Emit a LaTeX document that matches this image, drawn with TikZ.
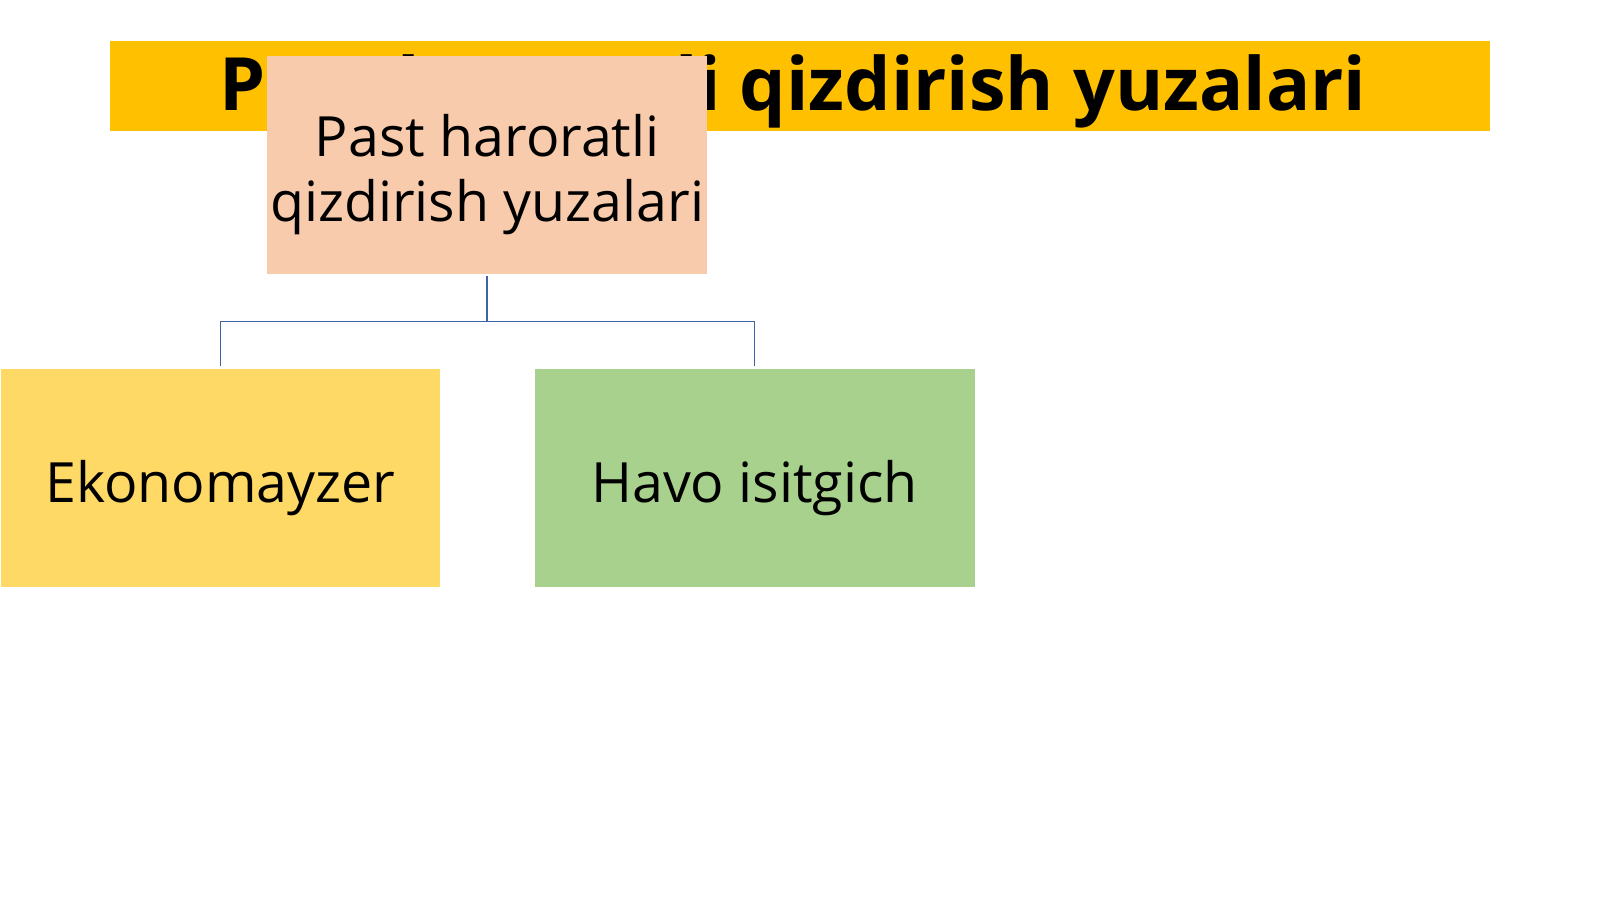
\documentclass[tikz,border=0pt]{standalone}
\usepackage{fontspec}
\setmainfont{Open Sans}
\definecolor{titlebar}{HTML}{FFC000}
\definecolor{topbox}{HTML}{F8CBAD}
\definecolor{ybox}{HTML}{FFD966}
\definecolor{gbox}{HTML}{A9D18E}
\definecolor{conn}{HTML}{3E64A8}
\tikzset{
  box/.style={draw=none, minimum width=439.8pt, minimum height=218.4pt, inner sep=0pt},
  boxtext/.style={inner sep=0pt, align=center, font=\fontsize{55.5}{65.3}\selectfont},
  link/.style={draw=conn, line width=1.6pt}
}
\begin{document}
\begin{tikzpicture}[x=1.0204pt,y=-1.0204pt]
\useasboundingbox (0,0) rectangle (1568,881);
\fill[white] (0,0) rectangle (1568,881);
\fill[titlebar] (108,40) rectangle (1460,128);
\node[anchor=base west, inner sep=0pt, font=\fontsize{73.5}{80}\selectfont\bfseries] (title) at (215,108) {Past haroratli qizdirish yuzalari};
\node[box, fill=topbox] (top) at (477.5,161.5) {};
\node[box, fill=ybox] (eko) at (216,468.5) {};
\node[box, fill=gbox] (havo) at (739.5,468.5) {};
\node[boxtext] (toptext) at (477.5,171) {Past haroratli\\qizdirish yuzalari};
\node[boxtext] (ekotext) at (216,478) {Ekonomayzer};
\node[boxtext] (havotext) at (739.5,478) {Havo isitgich};
\coordinate (mid) at (477.5,315);
\draw[link] ([yshift=-2pt]top.south) -- (mid);
\draw[link] (mid) -| ([yshift=3pt]eko.north);
\draw[link] (mid) -| ([yshift=3pt]havo.north);
\end{tikzpicture}
\end{document}
